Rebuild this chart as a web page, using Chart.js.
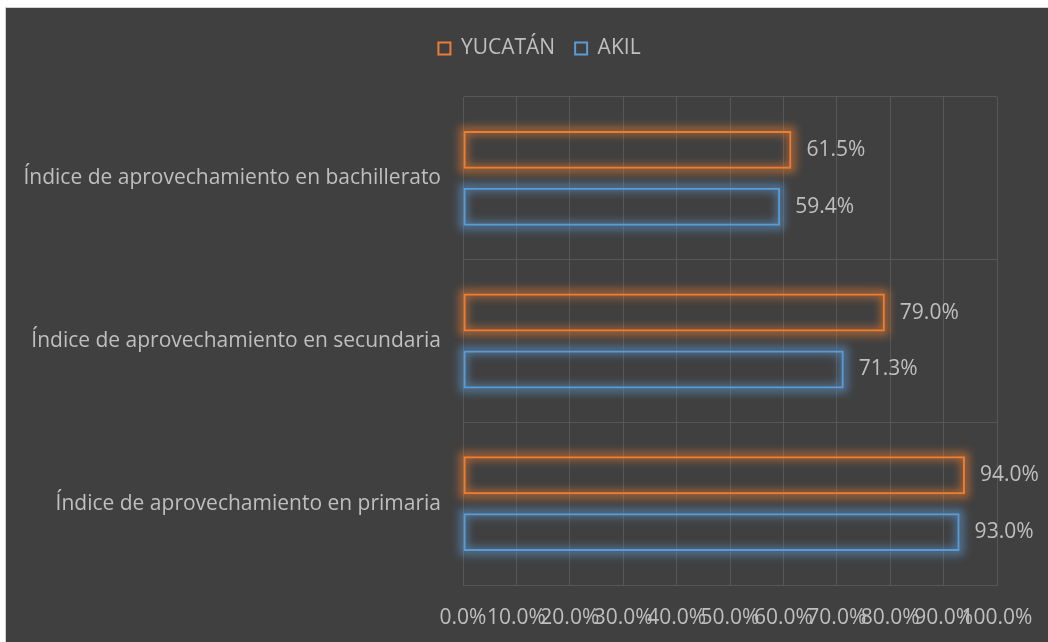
<!DOCTYPE html>
<html>
<head>
<meta charset="utf-8">
<script src="https://cdn.jsdelivr.net/npm/chart.js@4/dist/chart.umd.min.js"></script>
<style>
  html, body { margin: 0; padding: 0; background: #ffffff; width: 1048px; height: 642px; overflow: hidden; }
  #panel { position: absolute; left: 5px; top: 7px; width: 1043px; height: 635px; background: #404040; border-left: 1px solid #d0d0d0; border-top: 1px solid #d0d0d0; box-sizing: border-box; }
  #wrap { position: absolute; left: 0; top: 0; width: 1048px; height: 642px; }
</style>
</head>
<body>
<div id="panel"></div>
<div id="wrap"><canvas id="c" width="1048" height="642"></canvas></div>
<script>
const categories = [
  'Índice de aprovechamiento en bachillerato',
  'Índice de aprovechamiento en secundaria',
  'Índice de aprovechamiento en primaria'
];
const seriesNames = ['YUCATÁN', 'AKIL'];
const yucatanValues = [61.5, 79.0, 94.0];
const akilValues = [59.4, 71.3, 93.0];
const xTickMin = 0, xTickMax = 100, xTickStep = 10;

const ORANGE = '#ED7D31';
const BLUE = '#5B9BD5';
const TEXT = '#bfbfbf';
const GRID = '#575757';
const FONT = "'Open Sans', sans-serif";
const FS = 21;

const glowPlugin = {
  id: 'glow',
  afterLayout(chart) {
    const lg = chart.legend;
    if (lg) { lg.left += 38; lg.right += 38; }
  },
  beforeDatasetsDraw(chart) {
    const ctx = chart.ctx;
    chart.data.datasets.forEach((ds, di) => {
      const meta = chart.getDatasetMeta(di);
      meta.data.forEach(el => {
        const left = Math.min(el.base, el.x), right = Math.max(el.base, el.x);
        const top = el.y - el.height / 2, h = el.height;
        ctx.save();
        ctx.filter = 'blur(4px)';
        ctx.strokeStyle = ds.glowColor;
        ctx.lineWidth = 8;
        ctx.strokeRect(left, top, right - left, h);
        ctx.restore();
      });
    });
  },
  afterDatasetsDraw(chart) {
    const ctx = chart.ctx;
    ctx.save();
    ctx.font = FS + 'px ' + FONT;
    ctx.fillStyle = TEXT;
    ctx.textAlign = 'left';
    ctx.textBaseline = 'middle';
    chart.data.datasets.forEach((ds, di) => {
      const meta = chart.getDatasetMeta(di);
      meta.data.forEach((el, i) => {
        ctx.fillText(ds.data[i].toFixed(1) + '%', el.x + 15, el.y);
      });
    });
    ctx.restore();
  }
};

new Chart(document.getElementById('c'), {
  type: 'bar',
  data: {
    labels: categories,
    datasets: [
      { label: seriesNames[0], data: yucatanValues, backgroundColor: 'rgba(0,0,0,0)', borderColor: ORANGE, borderWidth: 2, glowColor: 'rgba(237,125,49,0.6)', borderSkipped: false },
      { label: seriesNames[1], data: akilValues, backgroundColor: 'rgba(0,0,0,0)', borderColor: BLUE, borderWidth: 2, glowColor: 'rgba(91,155,213,0.6)', borderSkipped: false }
    ]
  },
  options: {
    indexAxis: 'y',
    responsive: false,
    animation: false,
    devicePixelRatio: 1,
    categoryPercentage: 0.70,
    barPercentage: 0.667,
    layout: { padding: { left: 6, top: 18, right: 51, bottom: 0 } },
    plugins: {
      legend: {
        display: true,
        position: 'top',
        labels: { boxWidth: 12, boxHeight: 12, padding: 20, color: TEXT, font: { family: FONT, size: FS } }
      },
      subtitle: { display: true, text: '', weight: 500, position: 'top', font: { size: 10, lineHeight: 1 }, padding: { top: 0, bottom: 18 } },
      tooltip: { enabled: false }
    },
    scales: {
      x: {
        min: xTickMin, max: xTickMax,
        grid: { color: GRID, lineWidth: 1, drawTicks: true, tickLength: 20, tickColor: 'rgba(0,0,0,0)' },
        border: { color: GRID },
        ticks: {
          stepSize: xTickStep, autoSkip: false, maxRotation: 0, minRotation: 0,
          color: TEXT, font: { family: FONT, size: FS }, padding: 0,
          callback: v => v.toFixed(1) + '%'
        },
        afterFit(scale) { scale.height = 57; }
      },
      y: {
        grid: { color: GRID, lineWidth: 1, drawTicks: false, offset: true },
        border: { color: GRID },
        ticks: { color: TEXT, font: { family: FONT, size: FS }, padding: 22 },
        afterFit(scale) { scale.width = 463 - 6; }
      }
    }
  },
  plugins: [glowPlugin]
});
</script>
</body>
</html>
